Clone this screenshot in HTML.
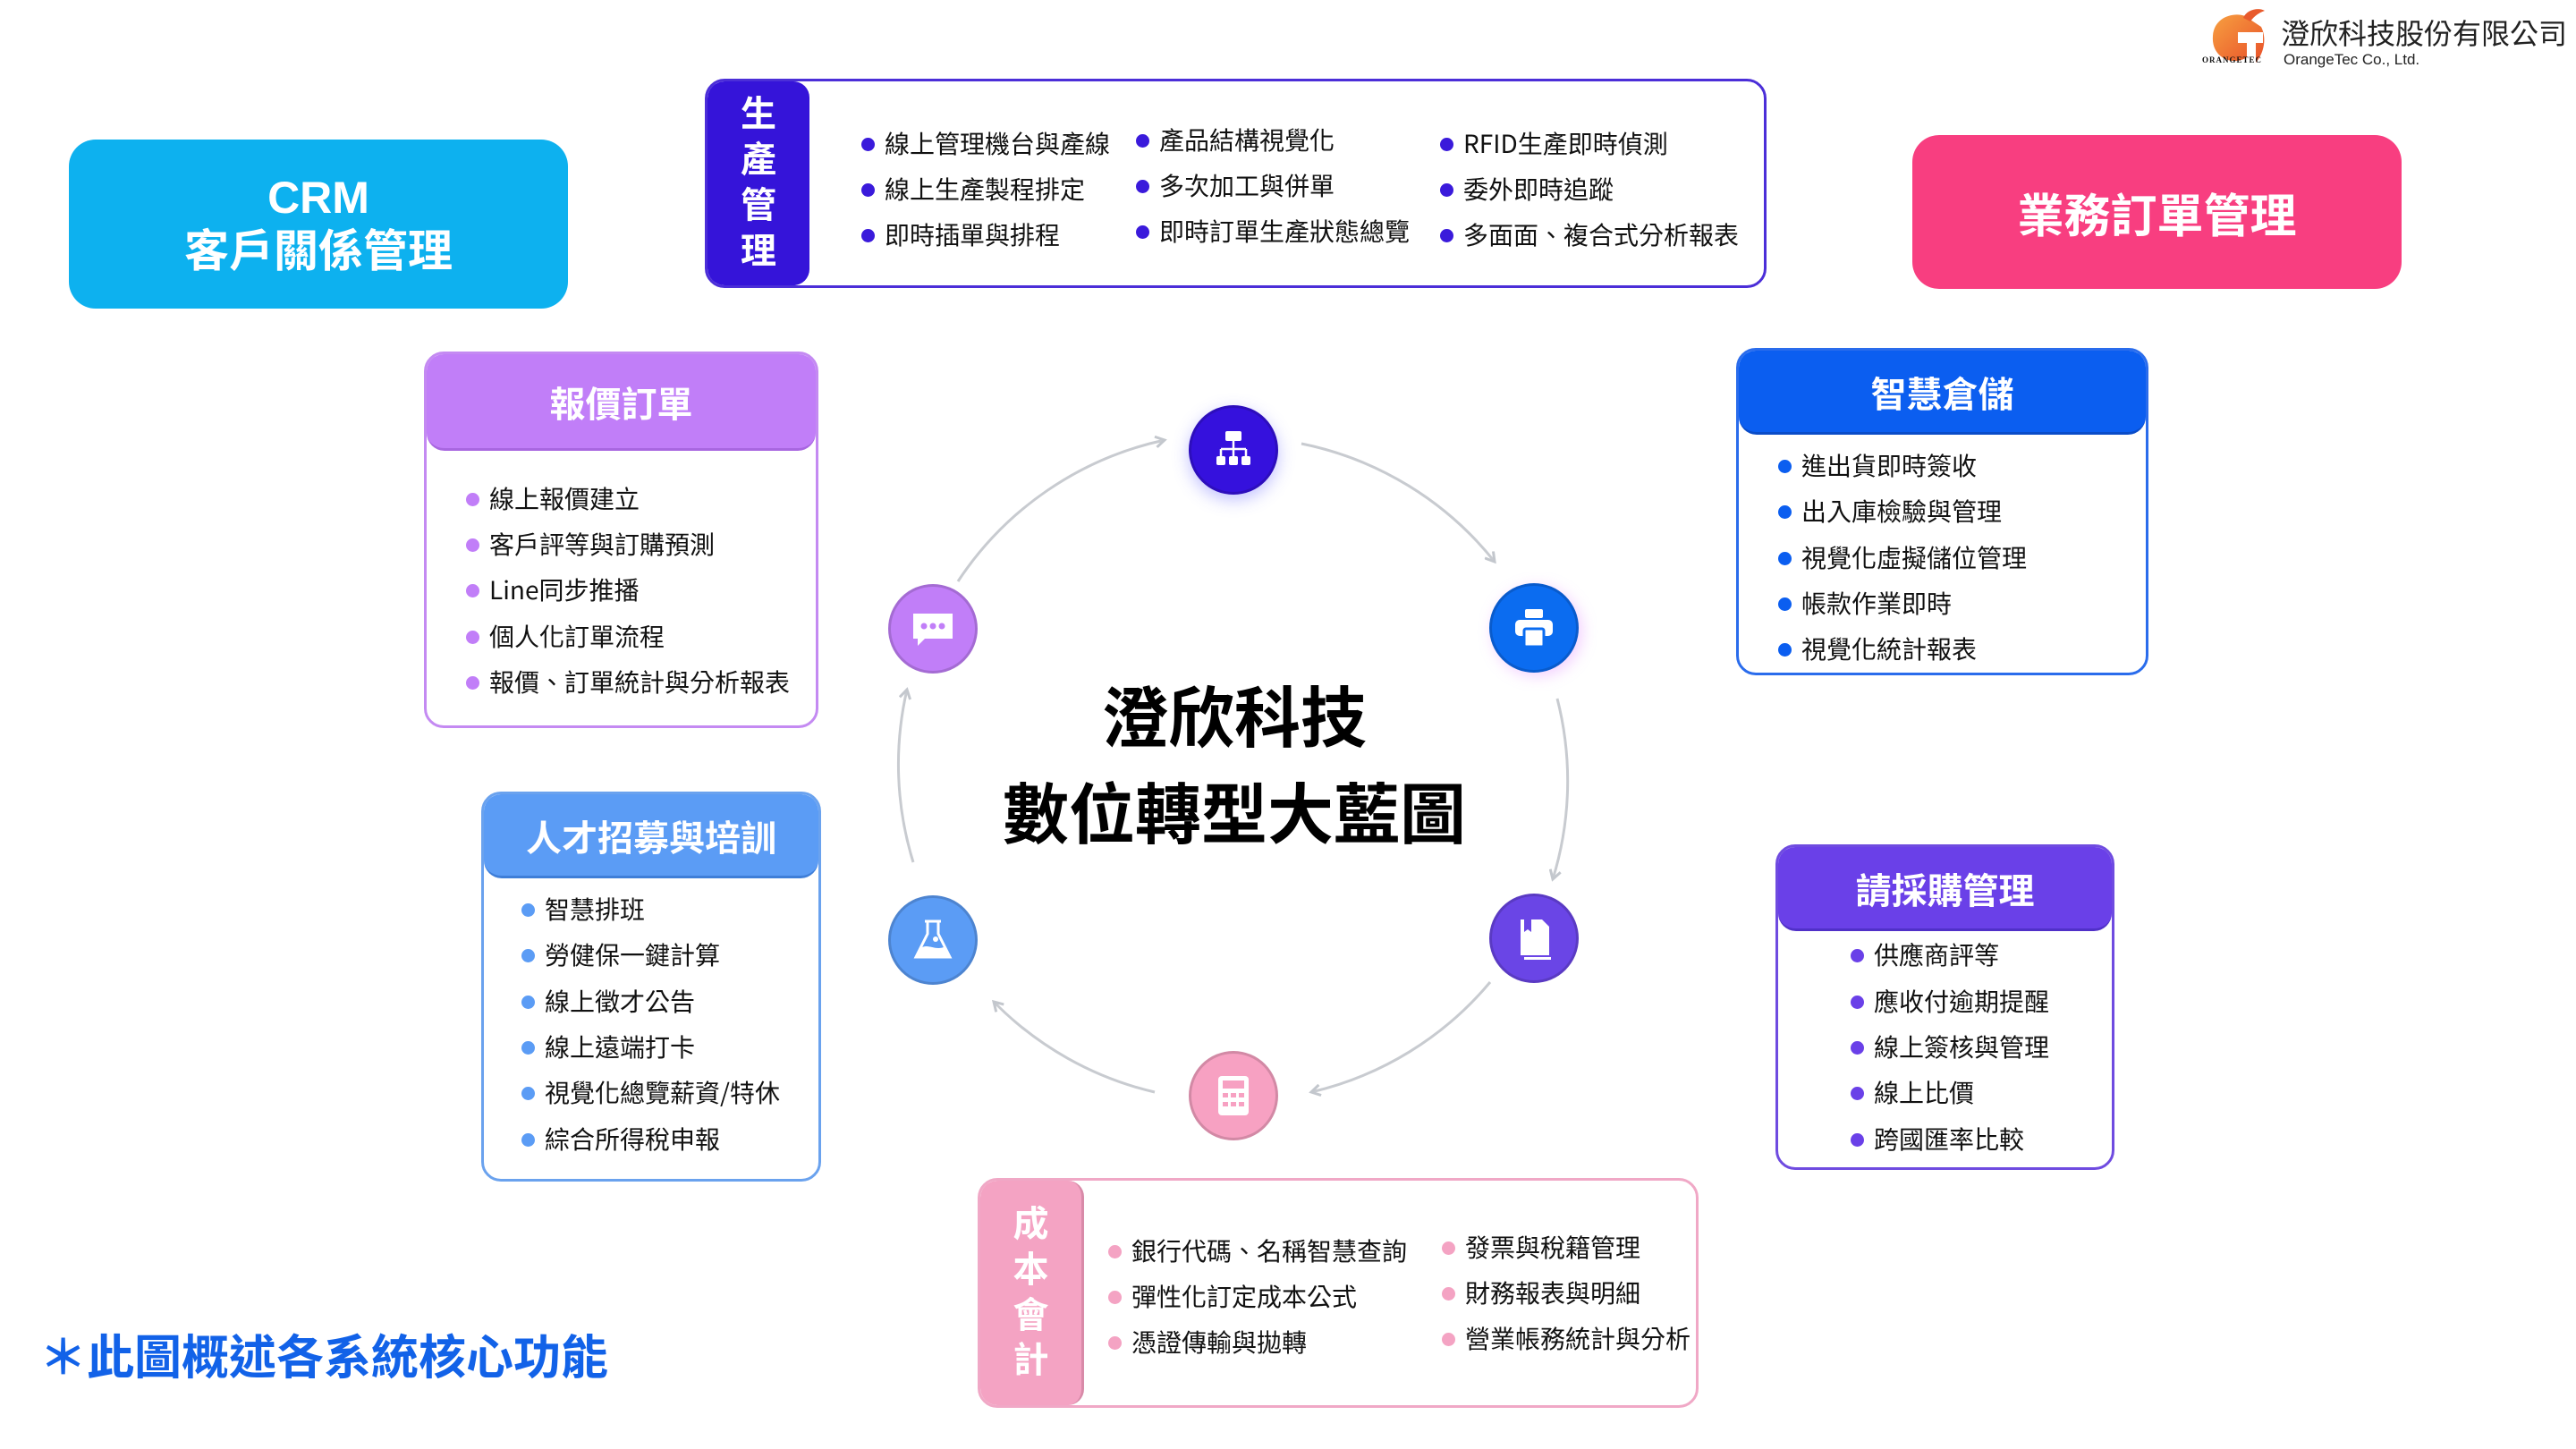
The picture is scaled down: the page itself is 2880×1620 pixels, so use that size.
<!DOCTYPE html>
<html><head><meta charset="utf-8">
<style>
*{margin:0;padding:0;box-sizing:border-box}
body{width:2880px;height:1620px;background:#fff;position:relative;overflow:hidden;font-family:"Liberation Sans","Noto Sans CJK TC",sans-serif;color:#111}
.a{position:absolute}
.big{display:flex;align-items:center;justify-content:center;flex-direction:column;color:#fff;font-weight:700;border-radius:30px;text-align:center}
.card{position:absolute;border:3px solid;border-radius:22px;background:#fff;overflow:hidden}
.card .h{color:#fff;font-weight:700;font-size:40px;display:flex;align-items:center;justify-content:center;border-bottom:3px solid;border-radius:0 0 20px 20px}
.li{position:absolute;font-size:28px;white-space:nowrap;line-height:1;font-family:"Noto Sans CJK TC","Liberation Sans",sans-serif}
.li::before{content:"";position:absolute;left:-26px;top:8px;width:15px;height:15px;border-radius:50%;background:var(--c)}
.tab{position:absolute;top:0;left:0;bottom:0;color:#fff;font-weight:700;font-size:40px;display:flex;flex-direction:column;align-items:center;justify-content:center;line-height:1.27;border-radius:18px}
.ic{position:absolute;width:100px;height:100px;border-radius:50%;border:3px solid rgba(0,0,0,.15);display:flex;align-items:center;justify-content:center}
</style></head><body>

<!-- Logo -->
<svg class="a" style="left:2468px;top:8px" width="70" height="66" viewBox="0 0 70 66">
<defs><linearGradient id="og" x1="0" y1="0" x2="1" y2="1"><stop offset="0" stop-color="#f7a040"/><stop offset="1" stop-color="#e8502a"/></linearGradient></defs>
<path d="M48 14 C40 4 8 6 6 32 C4 58 30 66 44 56 L44 40 L34 40 L34 28 L62 28 L62 40 L54 40 L54 62 C64 50 66 34 60 22 Z" fill="url(#og)"/>
<path d="M40 12 C44 2 58 0 64 4 C58 6 52 10 48 16 Z" fill="#e85a2c"/>
</svg>
<div class="a" style="left:2462px;top:62px;font-size:9px;font-family:'Liberation Serif',serif;font-weight:700;letter-spacing:1px;white-space:nowrap">ORANGETEC</div>
<div class="a" style="left:2550px;top:20px;font-size:32px;color:#222;font-family:'Noto Sans CJK TC',sans-serif;line-height:1;white-space:nowrap">澄欣科技股份有限公司</div>
<div class="a" style="left:2553px;top:58px;font-size:17px;color:#222;line-height:1;white-space:nowrap">OrangeTec Co., Ltd.</div>

<!-- CRM -->
<div class="a big" style="left:77px;top:156px;width:558px;height:189px;background:#0db1ef;font-size:50px;line-height:1.2">CRM<br>客戶關係管理</div>
<!-- 業務訂單管理 -->
<div class="a big" style="left:2138px;top:151px;width:547px;height:172px;background:#f83e80;font-size:52px">業務訂單管理</div>

<!-- 生產管理 -->
<div class="card" style="left:788px;top:88px;width:1187px;height:234px;border-color:#4b2ed8">
 <div class="tab" style="width:114px;background:#3514d9">生<br>產<br>管<br>理</div>
 <div class="li" style="--c:#3a1adb;left:198px;top:55px">線上管理機台與產線</div>
 <div class="li" style="--c:#3a1adb;left:198px;top:106px">線上生產製程排定</div>
 <div class="li" style="--c:#3a1adb;left:198px;top:157px">即時插單與排程</div>
 <div class="li" style="--c:#3a1adb;left:505px;top:51px">產品結構視覺化</div>
 <div class="li" style="--c:#3a1adb;left:505px;top:102px">多次加工與併單</div>
 <div class="li" style="--c:#3a1adb;left:505px;top:153px">即時訂單生產狀態總覽</div>
 <div class="li" style="--c:#3a1adb;left:845px;top:55px">RFID生產即時偵測</div>
 <div class="li" style="--c:#3a1adb;left:845px;top:106px">委外即時追蹤</div>
 <div class="li" style="--c:#3a1adb;left:845px;top:157px">多面面、複合式分析報表</div>
</div>

<!-- 報價訂單 -->
<div class="card" style="left:474px;top:393px;width:441px;height:421px;border-color:#c48af2">
 <div class="h" style="height:108px;background:#c17ef8;border-color:#a866e0">報價訂單</div>
 <div class="li" style="--c:#c17ef8;left:70px;top:147px">線上報價建立</div>
 <div class="li" style="--c:#c17ef8;left:70px;top:198px">客戶評等與訂購預測</div>
 <div class="li" style="--c:#c17ef8;left:70px;top:249px">Line同步推播</div>
 <div class="li" style="--c:#c17ef8;left:70px;top:301px">個人化訂單流程</div>
 <div class="li" style="--c:#c17ef8;left:70px;top:352px">報價、訂單統計與分析報表</div>
</div>

<!-- 智慧倉儲 -->
<div class="card" style="left:1941px;top:389px;width:461px;height:366px;border-color:#2a6cec">
 <div class="h" style="height:94px;background:#0b5ef0;border-color:#0a4cc8">智慧倉儲</div>
 <div class="li" style="--c:#0b5ef0;left:70px;top:114px">進出貨即時簽收</div>
 <div class="li" style="--c:#0b5ef0;left:70px;top:165px">出入庫檢驗與管理</div>
 <div class="li" style="--c:#0b5ef0;left:70px;top:217px">視覺化虛擬儲位管理</div>
 <div class="li" style="--c:#0b5ef0;left:70px;top:268px">帳款作業即時</div>
 <div class="li" style="--c:#0b5ef0;left:70px;top:319px">視覺化統計報表</div>
</div>

<!-- 人才招募與培訓 -->
<div class="card" style="left:538px;top:885px;width:380px;height:436px;border-color:#6aa2ee">
 <div class="h" style="height:94px;background:#5b9cf5;border-color:#3e7ed8">人才招募與培訓</div>
 <div class="li" style="--c:#5b9cf5;left:68px;top:114px">智慧排班</div>
 <div class="li" style="--c:#5b9cf5;left:68px;top:165px">勞健保一鍵計算</div>
 <div class="li" style="--c:#5b9cf5;left:68px;top:217px">線上徵才公告</div>
 <div class="li" style="--c:#5b9cf5;left:68px;top:268px">線上遠端打卡</div>
 <div class="li" style="--c:#5b9cf5;left:68px;top:319px">視覺化總覽薪資/特休</div>
 <div class="li" style="--c:#5b9cf5;left:68px;top:371px">綜合所得稅申報</div>
</div>

<!-- 請採購管理 -->
<div class="card" style="left:1985px;top:944px;width:379px;height:364px;border-color:#6f4be0">
 <div class="h" style="height:94px;background:#6a40e8;border-color:#5030c8">請採購管理</div>
 <div class="li" style="--c:#6a40e8;left:107px;top:106px">供應商評等</div>
 <div class="li" style="--c:#6a40e8;left:107px;top:158px">應收付逾期提醒</div>
 <div class="li" style="--c:#6a40e8;left:107px;top:209px">線上簽核與管理</div>
 <div class="li" style="--c:#6a40e8;left:107px;top:260px">線上比價</div>
 <div class="li" style="--c:#6a40e8;left:107px;top:312px">跨國匯率比較</div>
</div>

<!-- 成本會計 -->
<div class="card" style="left:1093px;top:1317px;width:806px;height:257px;border-color:#f0a8c6">
 <div class="tab" style="width:116px;background:#f4a3c3;border-right:3px solid #d88aa8">成<br>本<br>會<br>計</div>
 <div class="li" style="--c:#f4a3c3;left:169px;top:64px">銀行代碼、名稱智慧查詢</div>
 <div class="li" style="--c:#f4a3c3;left:169px;top:115px">彈性化訂定成本公式</div>
 <div class="li" style="--c:#f4a3c3;left:169px;top:166px">憑證傳輸與拋轉</div>
 <div class="li" style="--c:#f4a3c3;left:542px;top:60px">發票與稅籍管理</div>
 <div class="li" style="--c:#f4a3c3;left:542px;top:111px">財務報表與明細</div>
 <div class="li" style="--c:#f4a3c3;left:542px;top:162px">營業帳務統計與分析</div>
</div>

<!-- arcs -->
<svg class="a" style="left:0;top:0" width="2880" height="1620">
<defs><marker id="ar" markerWidth="14" markerHeight="14" refX="11" refY="7" orient="auto" markerUnits="userSpaceOnUse"><path d="M1 1 L11 7 L1 13" fill="none" stroke="#c3c7cd" stroke-width="3"/></marker></defs>
<g fill="none" stroke="#c8cbd0" stroke-width="3" marker-end="url(#ar)">
<path d="M1455 496 A370 370 0 0 1 1671 628"/>
<path d="M1741 781 A370 370 0 0 1 1736 983"/>
<path d="M1666 1098 A370 370 0 0 1 1466 1221"/>
<path d="M1291 1221 A370 370 0 0 1 1111 1120"/>
<path d="M1021 964 A370 370 0 0 1 1014 771"/>
<path d="M1071 650 A370 370 0 0 1 1302 492"/>
</g>
</svg>

<!-- icons -->
<div class="ic" style="left:1329px;top:453px;background:#3511dd;box-shadow:0 6px 18px rgba(80,80,255,.35)">
<svg width="50" height="50" viewBox="0 0 50 50" fill="#fff"><rect x="16" y="4" width="18" height="11" rx="2"/><path d="M25 15 V24 M11 24 H39 M11 24 V32 M25 24 V32 M39 24 V32" stroke="#fff" stroke-width="2.5" fill="none"/><rect x="6" y="32" width="10" height="10" rx="2"/><rect x="20" y="32" width="10" height="10" rx="2"/><rect x="34" y="32" width="10" height="10" rx="2"/></svg></div>
<div class="ic" style="left:1665px;top:652px;background:#0b6cf0;box-shadow:4px 4px 16px rgba(220,120,255,.35)">
<svg width="54" height="54" viewBox="0 0 54 54" fill="#fff"><rect x="17" y="6" width="20" height="10" rx="2"/><rect x="6" y="18" width="42" height="18" rx="5"/><rect x="16" y="28" width="22" height="20" rx="2" stroke="#0b6cf0" stroke-width="3"/></svg></div>
<div class="ic" style="left:1665px;top:999px;background:#6a45e6">
<svg width="50" height="54" viewBox="0 0 50 54" fill="#fff"><path d="M10 6 H34 L42 14 V46 H10 Z"/><rect x="14" y="48" width="30" height="3"/><path d="M14 6 V20 L18 17 L22 20 V6" fill="#6a45e6"/></svg></div>
<div class="ic" style="left:1329px;top:1175px;background:#f7a1c2">
<svg width="46" height="50" viewBox="0 0 46 50" fill="#fff"><rect x="6" y="3" width="34" height="44" rx="4"/><rect x="11" y="8" width="24" height="9" fill="#f7a1c2"/><g fill="#f7a1c2"><rect x="11" y="22" width="6" height="5"/><rect x="20" y="22" width="6" height="5"/><rect x="29" y="22" width="6" height="5"/><rect x="11" y="32" width="6" height="5"/><rect x="20" y="32" width="6" height="5"/><rect x="29" y="32" width="6" height="5"/></g></svg></div>
<div class="ic" style="left:993px;top:1001px;background:#5b9cf5">
<svg width="54" height="54" viewBox="0 0 54 54"><path d="M18 6 H36 M21 6 V20 L8 46 H46 L33 20 V6" fill="none" stroke="#fff" stroke-width="3"/><path d="M13 36 C22 30 30 40 41 34 L45 46 H9 Z" fill="#fff"/><circle cx="30" cy="26" r="3" fill="#fff"/></svg></div>
<div class="ic" style="left:993px;top:653px;background:#c17ef8">
<svg width="54" height="50" viewBox="0 0 54 50"><path d="M5 8 H49 V36 H18 L10 44 V36 H5 Z" fill="#fff"/><circle cx="17" cy="22" r="3.5" fill="#c17ef8"/><circle cx="27" cy="22" r="3.5" fill="#c17ef8"/><circle cx="37" cy="22" r="3.5" fill="#c17ef8"/></svg></div>

<!-- center title -->
<div class="a" style="left:1000px;top:744px;width:760px;text-align:center;font-size:74px;font-weight:700;line-height:108px;color:#000;font-family:'Noto Sans CJK TC',sans-serif">澄欣科技<br>數位轉型大藍圖</div>

<!-- footnote -->
<div class="a" style="left:44px;top:1476px;font-size:53px;font-weight:700;color:#1262e8;white-space:nowrap">＊此圖概述各系統核心功能</div>
</body></html>
